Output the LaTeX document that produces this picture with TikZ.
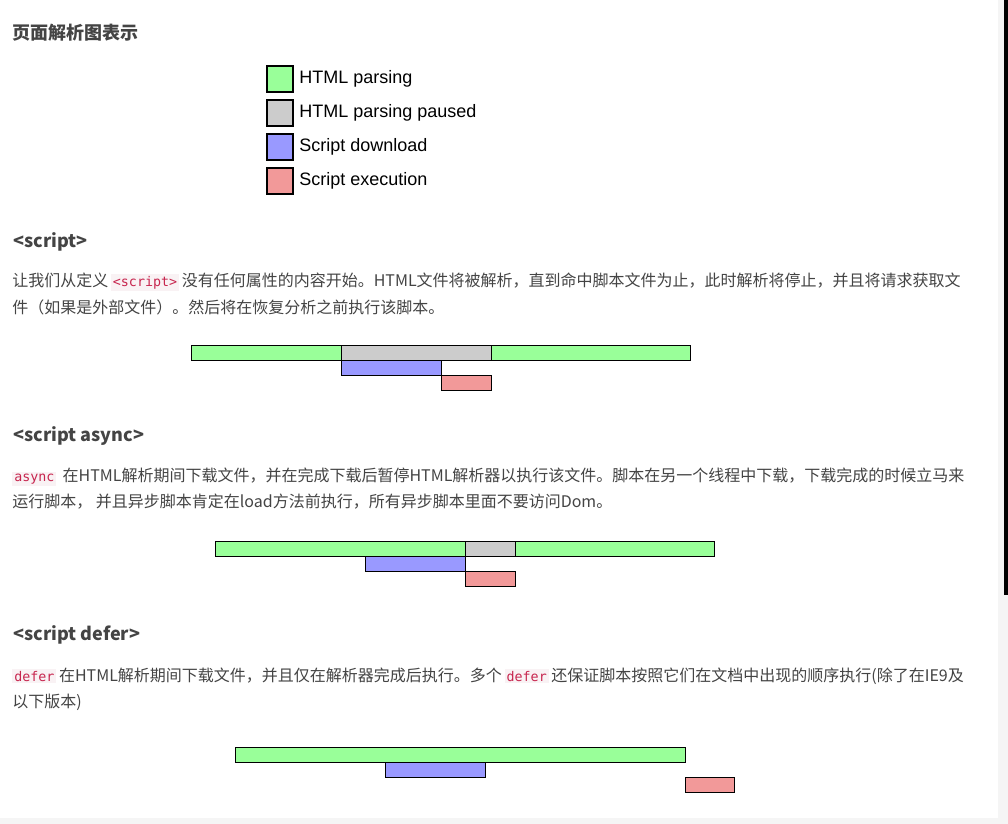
\documentclass[tikz,border=0pt]{standalone}
\usepackage{fontspec}
\setmainfont{Noto Sans CJK SC}
\newfontfamily\lat{Liberation Sans}
\newfontfamily\mono{DejaVu Sans Mono}
\definecolor{txt}{HTML}{444444}
\definecolor{pg}{HTML}{99FF99}
\definecolor{pp}{HTML}{CCCCCC}
\definecolor{sd}{HTML}{9999FF}
\definecolor{se}{HTML}{F29999}
\definecolor{codefg}{HTML}{C7254E}
\definecolor{codebg}{HTML}{F9F2F4}
\newcommand{\code}[1]{{\setlength\fboxsep{1.5pt}\colorbox{codebg}{\mono\fontsize{10pt}{12pt}\selectfont\textcolor{codefg}{#1}}}}
\tikzset{
  bar/.style={draw=black,line width=0.75pt},
  body/.style={anchor=west,inner sep=0pt,text=txt,font=\fontsize{12pt}{14pt}\selectfont},
  head/.style={anchor=west,inner sep=0pt,text=txt,font=\fontsize{13.5pt}{16pt}\selectfont\bfseries},
  leg/.style={anchor=west,inner sep=0pt,font=\lat\fontsize{13.5pt}{16pt}\selectfont},
}
\begin{document}
\begin{tikzpicture}[x=0.75pt,y=-0.75pt]
\useasboundingbox (0,0) rectangle (1008,824);
\fill[white] (0,0) rectangle (1008,824);
\fill[black!4] (998,0) rectangle (1008,824);
\fill[black!4] (0,818) rectangle (1008,824);
\fill[black] (1004,0) rectangle (1008,595);
\node[head] (title) at (12,33) {页面解析图表示};
% legend
\foreach \c/\t/\y [count=\i] in {pg/HTML parsing/66,pp/HTML parsing paused/100,sd/Script download/134,se/Script execution/168}{
  \draw[fill=\c,line width=1.2pt] (267,\y) rectangle (293,\y+26);
  \node[leg] (leg\i) at (299,\y+13) {\t};
}
% script
\node[head] (h1) at (13,242) {<script>};
\node[body] (b1a) at (12,282) {让我们从定义\,\code{<script>}\,没有任何属性的内容开始。HTML文件将被解析，直到命中脚本文件为止，此时解析将停止，并且将请求获取文};
\node[body] (b1b) at (12,307) {件（如果是外部文件）。然后将在恢复分析之前执行该脚本。};
\draw[bar,fill=pg] (191,345) rectangle (341,360);
\draw[bar,fill=pp] (341,345) rectangle (491,360);
\draw[bar,fill=pg] (491,345) rectangle (690,360);
\draw[bar,fill=sd] (341,360) rectangle (441,375);
\draw[bar,fill=se] (441,375) rectangle (491,390);
% async
\node[head] (h2) at (13,436) {<script async>};
\node[body] (b2a) at (12,477) {\code{async}\, 在HTML解析期间下载文件，并在完成下载后暂停HTML解析器以执行该文件。脚本在另一个线程中下载，下载完成的时候立马来};
\node[body] (b2b) at (12,502) {运行脚本， 并且异步脚本肯定在load方法前执行，所有异步脚本里面不要访问Dom。};
\draw[bar,fill=pg] (215,541) rectangle (465,556);
\draw[bar,fill=pp] (465,541) rectangle (515,556);
\draw[bar,fill=pg] (515,541) rectangle (714,556);
\draw[bar,fill=sd] (365,556) rectangle (465,571);
\draw[bar,fill=se] (465,571) rectangle (515,586);
% defer
\node[head] (h3) at (13,635) {<script defer>};
\node[body] (b3a) at (12,676) {\code{defer}\,在HTML解析期间下载文件，并且仅在解析器完成后执行。多个\,\code{defer}\,还保证脚本按照它们在文档中出现的顺序执行(除了在IE9及};
\node[body] (b3b) at (12,702) {以下版本)};
\draw[bar,fill=pg] (235,747) rectangle (685,762);
\draw[bar,fill=sd] (385,762) rectangle (485,777);
\draw[bar,fill=se] (685,777) rectangle (734,792);
\end{tikzpicture}
\end{document}
